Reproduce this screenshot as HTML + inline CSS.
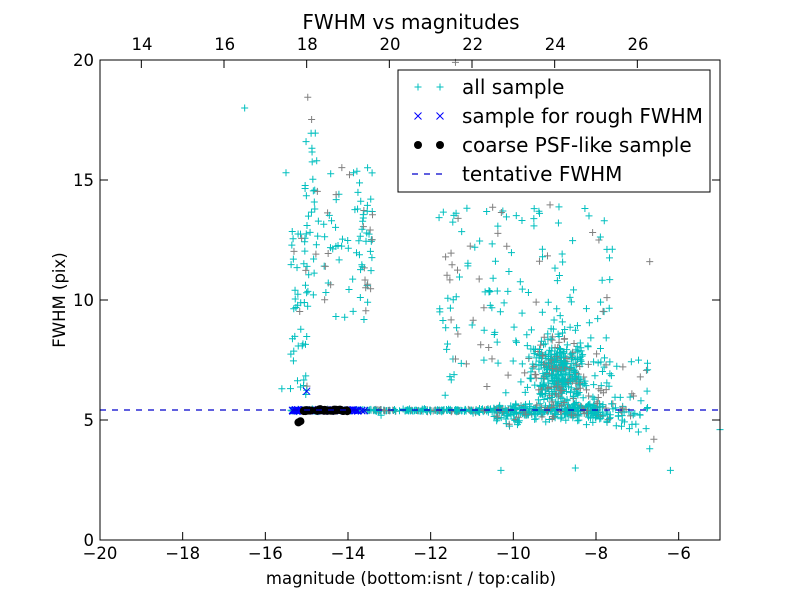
<!DOCTYPE html>
<html><head><meta charset="utf-8"><style>
body{margin:0;background:#fff}
svg text{font-family:"DejaVu Sans","Liberation Sans",sans-serif;fill:#000}
</style></head><body>
<svg id="s" width="800" height="600" xmlns="http://www.w3.org/2000/svg">
<rect width="800" height="600" fill="#fff"/>
<g id="pts"></g>
<line x1="100" y1="410" x2="720" y2="410" stroke="#0000cc" stroke-width="1.2" stroke-dasharray="6,6"/>
<rect x="100" y="60" width="620" height="480" fill="none" stroke="#000" stroke-width="1"/>
<g id="ticks" stroke="#000" stroke-width="1"></g>
<g font-size="16.5" text-anchor="middle">
<text x="100" y="559">−20</text><text x="182.7" y="559">−18</text><text x="265.3" y="559">−16</text>
<text x="348" y="559">−14</text><text x="430.7" y="559">−12</text><text x="513.3" y="559">−10</text>
<text x="596" y="559">−8</text><text x="678.7" y="559">−6</text>
<text x="142" y="50">14</text><text x="224.7" y="50">16</text><text x="307.3" y="50">18</text>
<text x="390" y="50">20</text><text x="472.7" y="50">22</text><text x="555.3" y="50">24</text><text x="638" y="50">26</text>
</g>
<g font-size="16.5" text-anchor="end">
<text x="94" y="546">0</text><text x="94" y="426">5</text><text x="94" y="306">10</text>
<text x="94" y="186">15</text><text x="94" y="66">20</text>
</g>
<text x="411" y="584" font-size="16.5" text-anchor="middle">magnitude (bottom:isnt / top:calib)</text>
<text x="411" y="29" font-size="20" text-anchor="middle">FWHM vs magnitudes</text>
<text transform="translate(65,300) rotate(-90)" font-size="16.5" text-anchor="middle">FWHM (pix)</text>
<g id="legend">
<rect x="398" y="70" width="312" height="122" fill="#fff" stroke="#000" stroke-width="1"/>
<text x="462" y="94" font-size="20">all sample</text>
<text x="462" y="123" font-size="20">sample for rough FWHM</text>
<text x="462" y="152" font-size="20">coarse PSF-like sample</text>
<text x="462" y="181" font-size="20">tentative FWHM</text>
<line x1="412" y1="174" x2="448" y2="174" stroke="#0000cc" stroke-width="1.2" stroke-dasharray="6,6"/>
</g>
<g id="lm"></g>
</svg>
<script>
var seed=12345;function r(){seed=(seed*1103515245+12345)%2147483648;return seed/2147483648;}
function g(){var u=0;for(var i=0;i<6;i++)u+=r();return (u-3)/1.4;}
var h='';
function X(v){return 100+(v+20)*620/15;}function Y(v){return 540-v*24;}
function plusP(px,py,c){h+='<path d="M'+(px-3.5)+' '+py+'h7M'+px+' '+(py-3.5)+'v7" stroke="'+c+'" stroke-width="1" fill="none"/>';}
function plus(x,y,c){var px=X(x),py=Y(y);if(px<100||px>720||py<60||py>540)return;plusP(px,py,c);}
function crossP(px,py){h+='<path d="M'+(px-3.5)+' '+(py-3.5)+'l7 7M'+(px-3.5)+' '+(py+3.5)+'l7 -7" stroke="#0000ff" stroke-width="1" fill="none"/>';}
function cross(x,y){crossP(X(x),Y(y));}
function dotP(px,py){h+='<circle cx="'+px+'" cy="'+py+'" r="4" fill="#000"/>';}
function dot(x,y){dotP(X(x),Y(y));}
function add(x,y){plus(x,y,r()<0.2?'#808080':'#00bfbf');}
var i,x,y;
for(i=0;i<450;i++){x=-15.4+r()*7.6;var s=x<-11?0.05:(x<-10?0.12:0.3);add(x,5.4+g()*s);}
for(i=0;i<150;i++){x=-10.5+r()*3.3;add(x,5.3+g()*0.45);}
for(i=0;i<45;i++){add(-15.4+r()*0.45,6+r()*7);}
for(i=0;i<35;i++){add(-15.05+r()*0.35,10+r()*8.8);}
for(i=0;i<55;i++){add(-14.6+r()*1.2,9+r()*7);}
for(i=0;i<25;i++){add(-13.75+r()*0.35,9.5+r()*5);}
for(i=0;i<170;i++){add(-11.8+r()*4.2,6+r()*8);}
for(i=0;i<380;i++){x=-8.9+g()*0.6;add(x,7+g()*1.5);}
for(i=0;i<60;i++){add(-8.3+r()*1.6,4.5+r()*3);}
add(-16.5,18);add(-15.5,15.3);add(-6.7,11.6);add(-6.2,2.9);add(-10.3,2.9);add(-8.5,3);add(-5,4.6);add(-7.8,13.3);add(-11.4,19.9);add(-15.6,6.3);add(-13.2,5.2);add(-6.7,3.8);add(-6.6,4.2);
for(i=0;i<80;i++){cross(-15.35+r()*1.75,5.4+g()*0.03);}cross(-15,6.2);
for(i=0;i<45;i++){dot(-15.1+r()*1.1,5.4+g()*0.04);}dot(-15.2,4.9);dot(-15.15,4.95);
document.getElementById('pts').innerHTML=h;
h='';
plusP(418,87,'#00bfbf');plusP(440,87,'#00bfbf');
crossP(418,116);crossP(440,116);dotP(418,145);dotP(440,145);
document.getElementById('lm').innerHTML=h;
var T='';
[-20,-18,-16,-14,-12,-10,-8,-6].forEach(function(v){var tx=X(v);T+='<line x1="'+tx+'" y1="540" x2="'+tx+'" y2="532"/>';});
[14,16,18,20,22,24,26].forEach(function(v){var tx=X(v-33);T+='<line x1="'+tx+'" y1="60" x2="'+tx+'" y2="68"/>';});
[0,5,10,15,20].forEach(function(v){var ty=Y(v);T+='<line x1="100" y1="'+ty+'" x2="108" y2="'+ty+'"/><line x1="712" y1="'+ty+'" x2="720" y2="'+ty+'"/>';});
document.getElementById('ticks').innerHTML=T;
</script>
</body></html>
